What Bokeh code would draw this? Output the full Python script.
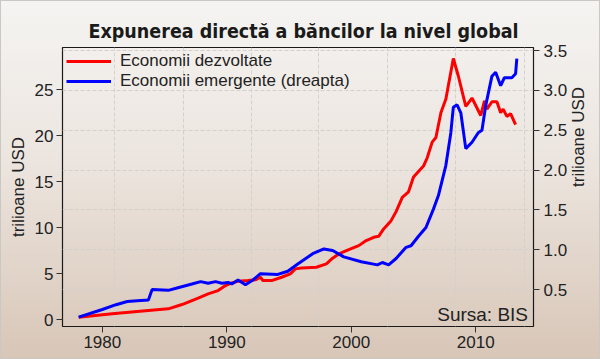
import math
from bokeh.plotting import figure
from bokeh.models import (LinearAxis, Range1d, Grid, SingleIntervalTicker, FixedTicker,
                          NumeralTickFormatter, Legend, LegendItem, Label, GlobalInlineStyleSheet)
from bokeh.embed import file_html
from bokeh.resources import INLINE

# ---- data ----
dev_years = [1978.1, 1980.8, 1983.7, 1985.3, 1986.4, 1987.7, 1988.5, 1989.3, 1989.9, 1990.4,
             1990.9, 1991.7, 1992.3, 1992.7, 1992.9, 1993.6, 1994.4, 1995.1, 1995.5, 1996.0,
             1997.2, 1998.0, 1998.5, 1999.0, 1999.8, 2000.6, 2001.2, 2001.8, 2002.2, 2002.6,
             2003.2, 2003.6, 2004.1, 2004.6, 2005.0, 2005.8, 2006.1, 2006.5, 2006.8, 2007.2,
             2007.6, 2008.2, 2008.6, 2009.2, 2009.7, 2010.4, 2010.7, 2010.9, 2011.3, 2011.7,
             2012.0, 2012.2, 2012.5, 2012.8, 2013.2]
dev_values = [0.25, 0.62, 0.98, 1.16, 1.63, 2.32, 2.79, 3.15, 3.70, 3.99,
              4.16, 4.24, 4.32, 4.6, 4.24, 4.24, 4.6, 4.97, 5.51, 5.6,
              5.69, 6.05, 6.67, 7.14, 7.61, 8.04, 8.59, 8.95, 9.05, 9.86,
              10.76, 11.74, 13.3, 13.9, 15.5, 16.7, 17.6, 19.3, 19.8, 22.5,
              24.0, 28.4, 26.5, 23.2, 24.1, 22.2, 23.8, 22.9, 23.7, 23.7,
              22.5, 22.9, 22.1, 22.4, 21.2]

em_years = [1978.1, 1980.0, 1981.1, 1982.0, 1982.8, 1983.7, 1984.0, 1985.3, 1986.0, 1987.2,
            1987.9, 1988.5, 1989.1, 1989.6, 1990.1, 1990.4, 1990.9, 1991.5, 1992.1, 1992.7,
            1994.1, 1994.9, 1995.7, 1996.9, 1997.8, 1998.5, 1999.4, 2000.8, 2002.1, 2002.5,
            2003.0, 2003.6, 2004.4, 2004.8, 2005.4, 2006.0, 2006.6, 2007.0, 2007.6, 2008.0,
            2008.2, 2008.5, 2008.8, 2009.2, 2009.7, 2010.2, 2010.5, 2010.8, 2011.3, 2011.6,
            2012.0, 2012.3, 2012.9, 2013.2, 2013.3]
em_values = [0.153, 0.25, 0.31, 0.35, 0.36, 0.37, 0.50, 0.49, 0.52, 0.57,
             0.60, 0.58, 0.60, 0.58, 0.59, 0.57, 0.62, 0.56, 0.62, 0.70,
             0.69, 0.73, 0.82, 0.95, 1.01, 0.99, 0.91, 0.85, 0.81, 0.84,
             0.81, 0.89, 1.03, 1.05, 1.17, 1.28, 1.51, 1.68, 2.06, 2.47,
             2.79, 2.82, 2.72, 2.27, 2.35, 2.47, 2.50, 2.81, 3.18, 3.23,
             3.06, 3.16, 3.16, 3.21, 3.40]

series_labels = ["Economii dezvoltate", "Economii emergente (dreapta)"]
title_text = "Expunerea directă a băncilor la nivel global"
axis_title = "trilioane USD"
source_text = "Sursa: BIS"

FONT = "Liberation Sans"
TXT = "#222222"

p = figure(width=600, height=359, output_backend="svg", toolbar_location=None,
           x_range=Range1d(1976.8, 2014.64), y_range=Range1d(-0.76, 29.6))
p.extra_y_ranges = {"right": Range1d(0.036, 3.54)}

p.min_border_left = 62
p.min_border_right = 65
p.min_border_top = 47
p.min_border_bottom = 33

p.background_fill_color = None
p.border_fill_color = None
p.outline_line_color = "#1a1a1a"
p.outline_line_width = 1.2

p.stylesheets = [GlobalInlineStyleSheet(css=(
    "html{background:linear-gradient(to bottom,#f5f4f2 0%,#ece5df 45%,#d8c6b7 100%) no-repeat;"
    "box-shadow:inset 0 0 0 1px #cbc8c4;}"
    "body{background:transparent;}"))]

p.title.text = title_text
p.title.align = "left"
p.title.offset = 26
p.title.text_font = "Noto Sans ExtraCondensed, Noto Sans Condensed, DejaVu Sans Condensed, Liberation Sans"
p.title.text_font_size = "19.5px"
p.title.text_font_style = "bold"
p.title.text_color = "#1a1a1a"
p.title.standoff = 9

def style_axis(ax):
    ax.axis_line_color = None
    ax.major_tick_line_color = "#333333"
    ax.major_tick_out = 6
    ax.major_tick_in = 0
    ax.minor_tick_line_color = None
    ax.major_label_text_font = FONT
    ax.major_label_text_font_size = "17px"
    ax.major_label_text_color = TXT
    ax.major_label_standoff = 3
    ax.axis_label_text_font = FONT
    ax.axis_label_text_font_size = "17px"
    ax.axis_label_text_font_style = "normal"
    ax.axis_label_text_color = TXT
    ax.axis_label_standoff = 4

xax = p.xaxis[0]
xax.ticker = SingleIntervalTicker(interval=10, num_minor_ticks=0)
style_axis(xax)

yax = p.yaxis[0]
yax.ticker = SingleIntervalTicker(interval=5, num_minor_ticks=0)
yax.axis_label = axis_title
style_axis(yax)

right_ticker = SingleIntervalTicker(interval=0.5, num_minor_ticks=0)
rax = LinearAxis(y_range_name="right", ticker=right_ticker,
                 formatter=NumeralTickFormatter(format="0.0"))
style_axis(rax)
rax.major_label_standoff = 4
p.add_layout(rax, "right")

# outer right axis carrying only the title, reading bottom-to-top like the left one
rtitle_ax = LinearAxis(y_range_name="right", ticker=FixedTicker(ticks=[]), axis_label=axis_title)
style_axis(rtitle_ax)
rtitle_ax.major_tick_out = 0
rtitle_ax.major_label_standoff = 0
rtitle_ax.axis_label_orientation = math.pi / 2
rtitle_ax.axis_label_standoff = 8
p.add_layout(rtitle_ax, "right")

# grids
p.ygrid.visible = False
p.xgrid.ticker = FixedTicker(ticks=[1981.0, 1986.5, 1992.0, 1997.4, 2002.9, 2008.4, 2013.9])
p.xgrid.grid_line_color = "#d4d0cc"
p.xgrid.grid_line_dash = "4 2"
p.xgrid.grid_line_width = 1
rgrid = Grid(dimension=1, ticker=right_ticker, y_range_name="right",
             grid_line_color="#d4d0cc", grid_line_dash="4 2", grid_line_width=1)
p.add_layout(rgrid)

r_dev = p.line(dev_years, dev_values, line_color="#ff0000", line_width=3)
r_em = p.line(em_years, em_values, line_color="#0000ff", line_width=3, y_range_name="right")

legend = Legend(items=[LegendItem(label=series_labels[0], renderers=[r_dev]),
                       LegendItem(label=series_labels[1], renderers=[r_em])],
                location="top_left", background_fill_alpha=0, border_line_alpha=0,
                margin=0, padding=4, spacing=0, glyph_width=45, glyph_height=20,
                label_height=20, label_standoff=9, label_text_font=FONT,
                label_text_font_size="17px", label_text_color=TXT)
p.add_layout(legend)

src = Label(x=2014.2, y=0.55, text=source_text, text_align="right", text_baseline="alphabetic",
            text_font=FONT, text_font_size="19px", text_color=TXT)
p.add_layout(src)

open("out.html", "w").write(file_html(p, INLINE))
